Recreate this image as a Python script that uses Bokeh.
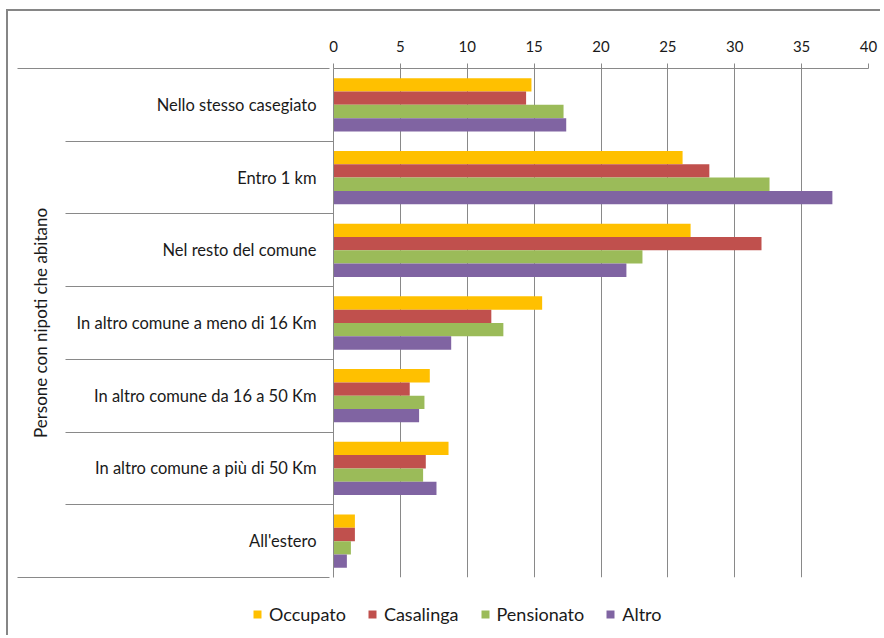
from bokeh.plotting import figure
from bokeh.models import (ColumnDataSource, Range1d, FactorRange, LinearAxis,
                          FixedTicker)
from bokeh.transform import dodge
from bokeh.embed import file_html
from bokeh.resources import INLINE

# ---------------- data ----------------
locations = ["Nello stesso casegiato", "Entro 1 km", "Nel resto del comune",
             "In altro comune a meno di 16 Km", "In altro comune da 16 a 50 Km",
             "In altro comune a più di 50 Km", "All'estero"]
series = ["Occupato", "Casalinga", "Pensionato", "Altro"]
occupato = [14.8, 26.1, 26.7, 15.6, 7.2, 8.6, 1.6]
casalinga = [14.4, 28.1, 32.0, 11.8, 5.7, 6.9, 1.6]
pensionato = [17.2, 32.6, 23.1, 12.7, 6.8, 6.7, 1.3]
altro = [17.4, 37.3, 21.9, 8.8, 6.4, 7.7, 1.0]
x_ticks = [0, 5, 10, 15, 20, 25, 30, 35, 40]
group_title = "Persone con nipoti che abitano"

colors = ["#FFC000", "#C0504D", "#9BBB59", "#8064A2"]
GRAY = "#898989"
FONT = "Lato"
TXT = "#1a1a1a"

src = ColumnDataSource(dict(loc=locations, Occupato=occupato, Casalinga=casalinga,
                            Pensionato=pensionato, Altro=altro))

n = len(locations)
factors = locations[::-1]          # bottom -> top
p = figure(width=874, height=626, output_backend="svg", toolbar_location=None,
           x_range=Range1d(x_ticks[0], x_ticks[-1]),
           y_range=FactorRange(factors=factors),
           x_axis_location="above", y_axis_location=None,
           min_border_left=325, min_border_right=14, min_border_top=57,
           min_border_bottom=60)
p.outline_line_color = None
p.background_fill_color = "white"
p.border_fill_color = "white"
p.styles = {"margin-left": "6px", "margin-top": "9px",
            "border-left": "2px solid #868686", "border-top": "2px solid #868686"}

bh = 0.1833
offsets = [1.5 * bh, 0.5 * bh, -0.5 * bh, -1.5 * bh]
for name, c, off in zip(series, colors, offsets):
    p.hbar(y=dodge("loc", off, range=p.y_range), right=name, left=0, height=bh,
           source=src, fill_color=c, line_color=None, legend_label=name)

# top value axis
xa = p.xaxis[0]
xa.ticker = FixedTicker(ticks=x_ticks)
xa.axis_line_color = GRAY
xa.major_tick_line_color = GRAY
xa.major_tick_out = 5
xa.major_tick_in = 0
xa.minor_tick_line_color = None
xa.major_label_standoff = 12
xa.major_label_text_font = FONT
xa.major_label_text_font_size = "15px"
xa.major_label_text_color = TXT
p.xgrid.grid_line_color = GRAY
p.xgrid.grid_line_width = 1
p.ygrid.grid_line_color = None

# category axis: labels at factor centres, separators (minor ticks) at boundaries
centres = [i + 0.5 for i in range(n)]
bounds = [float(i) for i in range(n + 1)]
SEP = 268
cat_axis = LinearAxis(ticker=FixedTicker(ticks=centres, minor_ticks=bounds[1:-1]),
                      major_label_overrides={c: f for c, f in zip(centres, factors)},
                      axis_line_color=GRAY, major_tick_out=0, major_tick_in=0,
                      minor_tick_out=SEP, minor_tick_in=0, minor_tick_line_color=GRAY,
                      major_label_standoff=17 - SEP, major_label_text_font=FONT,
                      major_label_text_font_size="16.5px", major_label_text_color=TXT)
p.add_layout(cat_axis, "left")

mid = n / 2
grp_axis = LinearAxis(ticker=FixedTicker(ticks=[mid], minor_ticks=[bounds[0], bounds[-1]]),
                      major_label_overrides={mid: group_title},
                      major_label_orientation="vertical",
                      axis_line_color=None, major_tick_out=0, major_tick_in=0,
                      minor_tick_out=56, minor_tick_in=256, minor_tick_line_color=GRAY,
                      major_label_standoff=-33, major_label_text_font=FONT,
                      major_label_text_font_size="17px", major_label_text_color=TXT)
p.add_layout(grp_axis, "left")

lg = p.legend[0]
p.center.remove(lg)
p.add_layout(lg, "below")
lg.orientation = "horizontal"
lg.location = (-81, -48)
lg.margin = -300
lg.border_line_color = None
lg.background_fill_alpha = 0
lg.padding = 0
lg.spacing = 21
lg.label_standoff = 7
lg.glyph_width = 10
lg.glyph_height = 10
lg.label_text_font = FONT
lg.label_text_font_size = "18px"
lg.label_text_color = TXT

open("out.html", "w").write(file_html(p, INLINE))
